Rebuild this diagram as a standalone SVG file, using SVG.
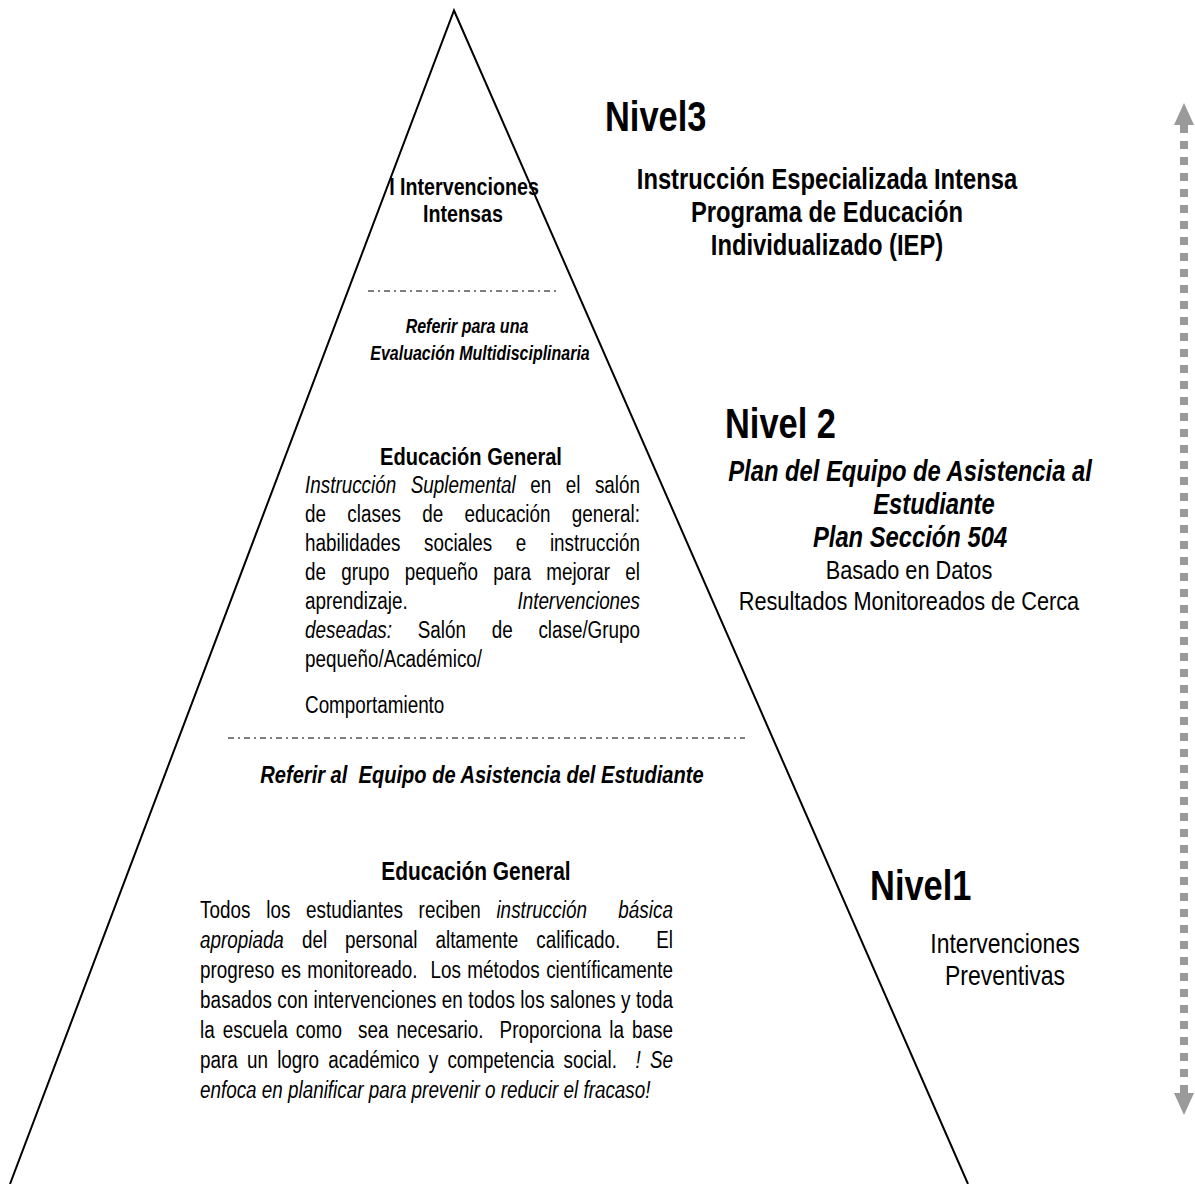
<svg xmlns="http://www.w3.org/2000/svg" width="1195" height="1184" viewBox="0 0 1195 1184">
<style>
text{font-family:"Liberation Sans",Arial,sans-serif;fill:#000}
.b{font-weight:bold}
.i{font-style:italic}
.lvl{font-size:42px;font-weight:bold}
.t23{font-size:23px}
.hd{font-size:24.5px;font-weight:bold}
.r3{font-size:29px;font-weight:bold}
.r2{font-size:29px;font-weight:bold;font-style:italic}
.rr{font-size:26.5px}
.mid{text-anchor:middle}
.edge{stroke:#000;stroke-width:2;fill:none}
.sep{stroke:#000;stroke-width:1;stroke-dasharray:6 4 2 4;fill:none}
.arr{fill:#9a9a9a}
</style>
<rect width="1195" height="1184" fill="#fff"/>
<g id="pyramid">
<path class="edge" d="M10,1184 L454,10.5 L968,1184"/>
</g>
<g id="tier3" transform="scale(0.82,1)">
<text class="lvl" x="737.8" y="131">Nivel3</text>
<text class="b mid" font-size="24" x="565.9" y="195">I Intervenciones</text>
<text class="b mid" font-size="24" x="564.6" y="222">Intensas</text>
<text class="r3 mid" x="1008.5" y="189">Instrucción Especializada Intensa</text>
<text class="r3 mid" x="1008.5" y="222">Programa de Educación</text>
<text class="r3 mid" x="1008.5" y="255">Individualizado (IEP)</text>
</g>
<g id="referral-mdt">
<line class="sep" x1="368" y1="291" x2="560" y2="291"/>
<g transform="scale(0.82,1)">
<text class="b i mid" font-size="19.5" x="569.5" y="333">Referir para una</text>
<text class="b i mid" font-size="19.5" x="585.4" y="360">Evaluación Multidisciplinaria</text>
</g>
</g>
<g id="tier2" transform="scale(0.82,1)">
<text class="lvl" x="884.1" y="438">Nivel 2</text>
<text class="r2 mid" x="1109.8" y="481">Plan del Equipo de Asistencia al</text>
<text class="r2 mid" x="1139" y="514">Estudiante</text>
<text class="r2 mid" x="1109.8" y="547">Plan Sección 504</text>
<text class="rr mid" x="1108.5" y="579">Basado en Datos</text>
<text class="rr mid" x="1108.5" y="610">Resultados Monitoreados de Cerca</text>
<text class="hd mid" x="574.4" y="465">Educación General</text>
<text class="t23" x="372" y="493" word-spacing="11.34" textLength="408.5" lengthAdjust="spacing"><tspan class="i">Instrucción Suplemental</tspan> en el salón</text>
<text class="t23" x="372" y="522" word-spacing="19.63" textLength="408.5" lengthAdjust="spacing">de clases de educación general:</text>
<text class="t23" x="372" y="551" word-spacing="22.44" textLength="408.5" lengthAdjust="spacing">habilidades sociales e instrucción</text>
<text class="t23" x="372" y="580" word-spacing="12.2" textLength="408.5" lengthAdjust="spacing">de grupo pequeño para mejorar el</text>
<text class="t23" x="372" y="609">aprendizaje.</text>
<text class="t23 i" x="780.5" y="609" text-anchor="end">Intervenciones</text>
<text class="t23" x="372" y="638" word-spacing="25" textLength="408.5" lengthAdjust="spacing"><tspan class="i">deseadas:</tspan> Salón de clase/Grupo</text>
<text class="t23" x="372" y="667">pequeño/Académico/</text>
<text class="t23" x="372" y="713">Comportamiento</text>
</g>
<g id="referral-team">
<line class="sep" x1="228" y1="738" x2="745" y2="738"/>
<g transform="scale(0.82,1)">
<text class="b i mid" font-size="24.5" x="587.8" y="783" xml:space="preserve">Referir al  Equipo de Asistencia del Estudiante</text>
</g>
</g>
<g id="tier1" transform="scale(0.82,1)">
<text class="lvl" x="1061" y="900">Nivel1</text>
<text class="mid" font-size="28" x="1225.6" y="953">Intervenciones</text>
<text class="mid" font-size="28" x="1225.6" y="985">Preventivas</text>
<text class="mid b" font-size="25.5" x="580.5" y="880">Educación General</text>
<text class="t23" x="243.9" y="918" xml:space="preserve" word-spacing="12.62" textLength="576.8" lengthAdjust="spacing">Todos los estudiantes reciben <tspan class="i">instrucción  básica</tspan></text>
<text class="t23" x="243.9" y="948" xml:space="preserve" word-spacing="15.61" textLength="576.8" lengthAdjust="spacing"><tspan class="i">apropiada</tspan> del personal altamente calificado.  El</text>
<text class="t23" x="243.9" y="978" xml:space="preserve" word-spacing="1.55" textLength="576.8" lengthAdjust="spacing">progreso es monitoreado.  Los métodos científicamente</text>
<text class="t23" x="243.9" y="1008" textLength="576.8" lengthAdjust="spacing">basados con intervenciones en todos los salones y toda</text>
<text class="t23" x="243.9" y="1038" xml:space="preserve" word-spacing="3.44" textLength="576.8" lengthAdjust="spacing">la escuela como  sea necesario.  Proporciona la base</text>
<text class="t23" x="243.9" y="1068" xml:space="preserve" word-spacing="4.87" textLength="576.8" lengthAdjust="spacing">para un logro académico y competencia social.  <tspan class="i">! Se</tspan></text>
<text class="t23 i" x="243.9" y="1098">enfoca en planificar para prevenir o reducir el fracaso!</text>
</g>
<g id="connectors">
<polygon class="arr" points="1184,103 1174,125 1194,125"/>
<line x1="1184" y1="125" x2="1184" y2="1093" stroke="#9a9a9a" stroke-width="8" stroke-dasharray="8 8"/>
<polygon class="arr" points="1174,1093 1194,1093 1184,1115"/>
</g>
</svg>
